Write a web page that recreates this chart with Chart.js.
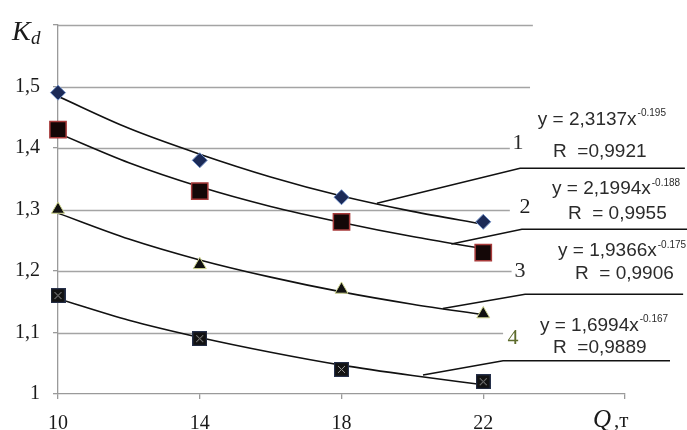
<!DOCTYPE html>
<html>
<head>
<meta charset="utf-8">
<script src="https://cdn.jsdelivr.net/npm/chart.js@4/dist/chart.umd.min.js"></script>
<style>
    html, body { margin: 0; padding: 0; background: #fff; }
    #kdChart { display: block; }
</style>
</head>
<body>
<canvas id="kdChart" width="687" height="430"></canvas>
<script>
// Measured points, Q (t) vs Kd
const qValues = [10, 14, 18, 22];
const kd1 = [1.49, 1.38, 1.32, 1.28];
const kd2 = [1.43, 1.33, 1.28, 1.23];
const kd3 = [1.30, 1.21, 1.17, 1.13];
const kd4 = [1.16, 1.09, 1.04, 1.02];

// Power trend curves
const trendQ = [10, 12, 14, 16, 18, 20, 22];
const trend1 = [1.484, 1.432, 1.390, 1.353, 1.322, 1.297, 1.276];
const trend2 = [1.424, 1.376, 1.337, 1.305, 1.279, 1.256, 1.236];
const trend3 = [1.294, 1.252, 1.218, 1.190, 1.166, 1.146, 1.129];
const trend4 = [1.155, 1.120, 1.092, 1.068, 1.047, 1.030, 1.015];

// Leader lines from each curve to its equation: [q, kd] pairs
const leader1 = [[19.0, 1.310], [23.04, 1.367], [27.69, 1.367]];
const leader2 = [[21.1, 1.244], [23.09, 1.268], [27.75, 1.268]];
const leader3 = [[20.86, 1.139], [23.18, 1.162], [27.64, 1.162]];
const leader4 = [[20.3, 1.031], [22.56, 1.054], [27.27, 1.054]];

// Tick labels
const xTickLabels = ['10', '14', '18', '22', ''];
const yTickLabels = ['1', '1,1', '1,2', '1,3', '1,4', '1,5', ''];

// Curve numbers and fit equations
const curveNames = ['1', '2', '3', '4'];
const eqMain = ['y = 2,3137x', 'y = 2,1994x', 'y = 1,9366x', 'y = 1,6994x'];
const eqPower = ['-0.195', '-0.188', '-0.175', '-0.167'];
const eqR = ['R  =0,9921', 'R  = 0,9955', 'R  = 0,9906', 'R  =0,9889'];

const toPoints = (xs, ys) => xs.map((x, i) => ({ x: x, y: ys[i] }));
const pairs = (arr) => arr.map(p => ({ x: p[0], y: p[1] }));

// square with an X, like the 4th series marker
function crossBox(size) {
    const c = document.createElement('canvas');
    c.width = size;
    c.height = size;
    const g = c.getContext('2d');
    g.fillStyle = '#121212';
    g.fillRect(0, 0, size, size);
    g.strokeStyle = '#26304a';
    g.lineWidth = 1.2;
    g.strokeRect(0.6, 0.6, size - 1.2, size - 1.2);
    g.strokeStyle = '#9a9a9a';
    g.lineWidth = 1;
    g.beginPath();
    g.moveTo(4, 4); g.lineTo(size - 4, size - 4);
    g.moveTo(size - 4, 4); g.lineTo(4, size - 4);
    g.stroke();
    return c;
}

// where the text bits sit, in data units
const numberSpots = [[22.98, 1.4075], [23.18, 1.304], [23.04, 1.199], [22.84, 1.0905]];
const numberColors = ['#2a2a2a', '#1e1e1e', '#2a2a2a', '#5d6b2c'];
const eqSpots = [[23.54, 1.4464], [23.94, 1.3331], [24.11, 1.2329], [23.60, 1.1116]];
const rSpots = [[23.97, 1.3946], [24.39, 1.2927], [24.59, 1.1957], [23.97, 1.0744]];
const gridStops = [null, 22.56, 22.8, 22.75, 22.75, 23.32, 23.4];

const annotate = {
    id: 'annotate',
    beforeDatasetsDraw(chart) {
        const { ctx, chartArea, scales: { x, y } } = chart;
        ctx.save();
        ctx.strokeStyle = '#a4a4a4';
        ctx.lineWidth = 1.3;
        y.ticks.forEach((t, i) => {
            if (!gridStops[i]) return;
            const py = Math.round(y.getPixelForValue(t.value)) + 0.5;
            ctx.beginPath();
            ctx.moveTo(chartArea.left, py);
            ctx.lineTo(x.getPixelForValue(gridStops[i]), py);
            ctx.stroke();
        });
        ctx.restore();
    },
    afterDatasetsDraw(chart) {
        const { ctx, scales: { x, y } } = chart;
        ctx.save();

        // curve numbers
        ctx.font = '22px "Liberation Serif"';
        ctx.textAlign = 'center';
        ctx.textBaseline = 'middle';
        curveNames.forEach((n, i) => {
            ctx.fillStyle = numberColors[i];
            ctx.fillText(n, x.getPixelForValue(numberSpots[i][0]), y.getPixelForValue(numberSpots[i][1]));
        });

        // equations
        ctx.textAlign = 'left';
        ctx.fillStyle = '#2b2b2b';
        eqMain.forEach((txt, i) => {
            const px = x.getPixelForValue(eqSpots[i][0]);
            const py = y.getPixelForValue(eqSpots[i][1]);
            ctx.font = '19px "Liberation Sans"';
            ctx.fillText(txt, px, py);
            const w = ctx.measureText(txt).width;
            ctx.font = '10px "Liberation Sans"';
            ctx.fillText(eqPower[i], px + w + 1, py - 6);
            ctx.font = '19px "Liberation Sans"';
            ctx.fillText(eqR[i], x.getPixelForValue(rSpots[i][0]), y.getPixelForValue(rSpots[i][1]));
        });

        // axis titles
        ctx.fillStyle = '#1a1a1a';
        ctx.textBaseline = 'alphabetic';
        ctx.font = 'italic 28px "Liberation Serif"';
        ctx.fillText('K', 12, 40);
        ctx.font = 'italic 19px "Liberation Serif"';
        ctx.fillText('d', 31, 44);
        ctx.font = 'italic 25px "Liberation Serif"';
        ctx.fillText('Q', 593, 427);
        ctx.font = '21px "Liberation Serif"';
        ctx.fillText(',т', 614, 427);

        ctx.restore();
    }
};

const trendStyle = {
    borderColor: '#111',
    borderWidth: 1.6,
    pointRadius: 0,
    fill: false,
    cubicInterpolationMode: 'monotone'
};
const leaderStyle = {
    borderColor: '#111',
    borderWidth: 1.5,
    pointRadius: 0,
    fill: false,
    tension: 0,
    clip: false
};

new Chart(document.getElementById('kdChart'), {
    type: 'line',
    data: {
        datasets: [
            {
                data: toPoints(qValues, kd1), showLine: false, clip: false,
                pointStyle: 'rectRot', pointRadius: 7.5,
                pointBackgroundColor: '#1b2a57', pointBorderColor: '#6d8cc4', pointBorderWidth: 1
            },
            {
                data: toPoints(qValues, kd2), showLine: false, clip: false,
                pointStyle: 'rect', pointRadius: 11.5,
                pointBackgroundColor: '#140707', pointBorderColor: '#a83b3b', pointBorderWidth: 1.5
            },
            {
                data: toPoints(qValues, kd3), showLine: false, clip: false,
                pointStyle: 'triangle', pointRadius: 7.5,
                pointBackgroundColor: '#111', pointBorderColor: '#cfd58f', pointBorderWidth: 1
            },
            {
                data: toPoints(qValues, kd4), showLine: false, clip: false,
                pointStyle: crossBox(15), pointRadius: 7.5
            },
            { data: toPoints(trendQ, trend1), ...trendStyle },
            { data: toPoints(trendQ, trend2), ...trendStyle },
            { data: toPoints(trendQ, trend3), ...trendStyle },
            { data: toPoints(trendQ, trend4), ...trendStyle },
            { data: pairs(leader1), ...leaderStyle },
            { data: pairs(leader2), ...leaderStyle },
            { data: pairs(leader3), ...leaderStyle },
            { data: pairs(leader4), ...leaderStyle }
        ]
    },
    options: {
        responsive: false,
        animation: false,
        devicePixelRatio: 1,
        layout: { padding: { top: 23, right: 62, left: 0, bottom: 0 } },
        plugins: {
            legend: { display: false },
            tooltip: { enabled: false }
        },
        scales: {
            x: {
                type: 'linear',
                min: 10,
                max: 26,
                afterFit: (s) => { s.height = 36; },
                border: { display: true, color: '#9a9a9a', width: 1.3 },
                grid: { drawOnChartArea: false, color: '#9a9a9a', tickLength: 5, lineWidth: 1.3 },
                ticks: {
                    stepSize: 4,
                    padding: 13,
                    color: '#1a1a1a',
                    font: { family: 'Liberation Serif', size: 20 },
                    callback: (v, i) => xTickLabels[i]
                }
            },
            y: {
                min: 1,
                max: 1.6,
                afterFit: (s) => { s.width = 58; },
                border: { display: true, color: '#9a9a9a', width: 1.3 },
                grid: { drawOnChartArea: false, color: '#9a9a9a', tickLength: 5, lineWidth: 1.3 },
                ticks: {
                    stepSize: 0.1,
                    padding: 13,
                    color: '#1a1a1a',
                    font: { family: 'Liberation Serif', size: 20 },
                    callback: (v, i) => yTickLabels[i]
                }
            }
        }
    },
    plugins: [annotate]
});
</script>
</body>
</html>
